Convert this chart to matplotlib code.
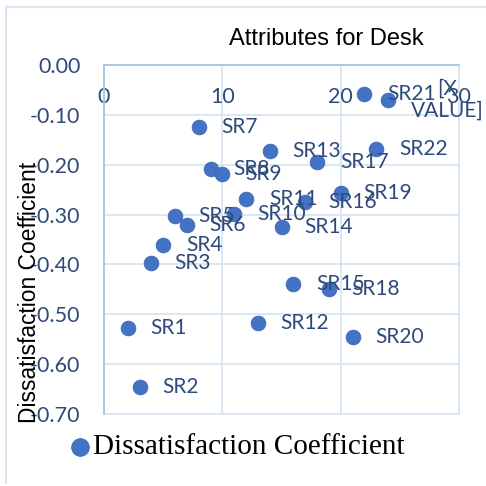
import matplotlib
matplotlib.use("Agg")
import matplotlib.pyplot as plt
from matplotlib.lines import Line2D
from matplotlib.ticker import FuncFormatter

labels = ["SR1", "SR2", "SR3", "SR4", "SR5", "SR6", "SR7", "SR8", "SR9", "SR10",
          "SR11", "SR12", "SR13", "SR14", "SR15", "SR16", "SR17", "SR18", "SR19",
          "SR20", "SR21", "SR22", "[X\nVALUE]"]
x_vals = [2, 3, 4, 5, 6, 7, 8, 9, 10, 11, 12, 13, 14, 15, 16, 17, 18, 19, 20,
          21, 22, 23, 24]
y_vals = [-0.528, -0.645, -0.398, -0.362, -0.303, -0.320, -0.124, -0.209, -0.219,
          -0.299, -0.269, -0.517, -0.172, -0.324, -0.439, -0.275, -0.194, -0.449,
          -0.256, -0.546, -0.059, -0.168, -0.070]
x_ticks = [0, 10, 20, 30]
y_ticks = [0.0, -0.1, -0.2, -0.3, -0.4, -0.5, -0.6, -0.7]
series_name = "Dissatisfaction Coefficient"
title = "Attributes for Desk"

W = H = 486
fig = plt.figure(figsize=(4.86, 4.86), dpi=100)
ax = fig.add_axes([104 / W, 1 - 414 / H, (459 - 104) / W, (414 - 65) / H])

grid_c = "#D9E5F3"
spine_c = "#A9C6EA"
text_c = "#2E4A7A"
pt_c = "#4472C4"

sc = ax.scatter(x_vals, y_vals, s=112, color=pt_c, edgecolor="#3C68B3",
                linewidth=0.6, zorder=3, label=series_name)

for lx, ly, lab in zip(x_vals, y_vals, labels):
    ax.annotate(lab, (lx, ly), xytext=(16.5, 0), textcoords="offset points",
                ha="left", va="center", multialignment="center",
                fontsize=15, family="Lato", color=text_c, zorder=4,
                linespacing=1.15)

ax.set_xlim(0, 30)
ax.set_ylim(-0.70, 0.0)
ax.set_xticks(x_ticks)
ax.set_yticks(y_ticks)
ax.yaxis.set_major_formatter(FuncFormatter(
    lambda v, p: f"{abs(v):.2f}" if abs(v) < 1e-9 else f"{v:.2f}"))
ax.xaxis.set_major_formatter(FuncFormatter(lambda v, p: f"{v:.0f}"))

ax.grid(True, color=grid_c, linewidth=1.3, zorder=0)
ax.set_axisbelow(True)
for gl in ax.get_xgridlines() + ax.get_ygridlines():
    gl.set_clip_on(False)
for s in ["right", "bottom"]:
    ax.spines[s].set_visible(False)
ax.spines["left"].set_color(spine_c)
ax.spines["left"].set_linewidth(1.3)
ax.spines["top"].set_color(spine_c)
ax.spines["top"].set_linewidth(1.3)

ax.tick_params(axis="y", length=0, pad=17, labelsize=15.5, labelcolor=text_c)
ax.tick_params(axis="x", length=0, top=False, bottom=False, labeltop=True,
               labelbottom=False, pad=-30, labelsize=15.5, labelcolor=text_c)
for t in ax.get_xticklabels() + ax.get_yticklabels():
    t.set_family("Lato")

fig.text(326 / W, 1 - 45 / H, title, ha="center", va="baseline",
         fontsize=17, family="Liberation Sans", color="black")
fig.text(30 / W, 1 - 292 / H, series_name, ha="center", va="center",
         rotation=90, fontsize=16.4, family="Liberation Sans", color="black")

fig.legend(handles=[sc], labels=[series_name], loc="center",
           bbox_to_anchor=(238.5 / W, 1 - 447 / H), frameon=False,
           prop={"family": "Liberation Serif", "size": 21}, markerscale=1.2,
           handlelength=0.5, handletextpad=0.2, borderpad=0, borderaxespad=0)

fig.add_artist(Line2D([6 / W, 1.0], [1 - 7 / H, 1 - 7 / H], color=grid_c,
                      linewidth=1.5, transform=fig.transFigure))
fig.add_artist(Line2D([6 / W, 6 / W], [1 - 7 / H, 1 - 483 / H], color=grid_c,
                      linewidth=1.5, transform=fig.transFigure))

fig.savefig("out.png", dpi=100)
